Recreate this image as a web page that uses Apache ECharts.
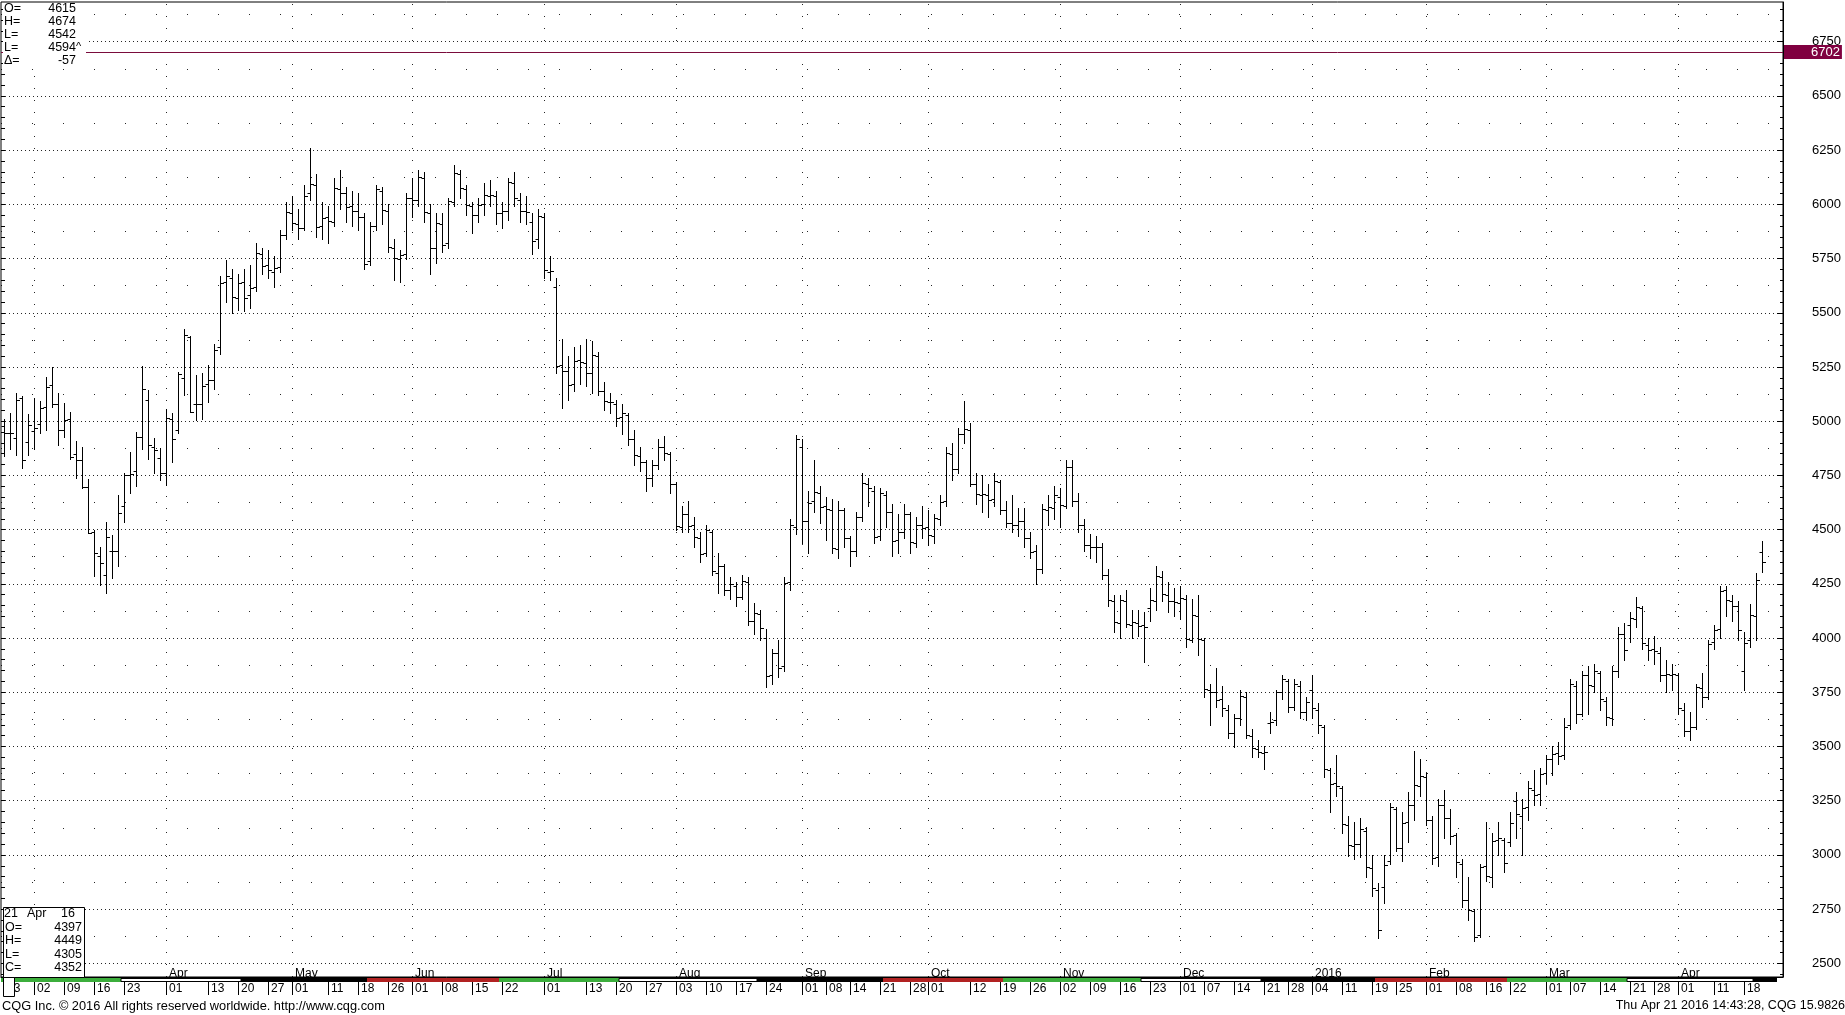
<!DOCTYPE html>
<html><head><meta charset="utf-8">
<script src="https://cdn.jsdelivr.net/npm/echarts@6/dist/echarts.min.js"></script>
<style>html,body{margin:0;padding:0;background:#fff;overflow:hidden}#c{width:1845px;height:1015px}</style>
</head><body><div id="c"></div>
<script>
// ---------- DATA ----------
const holidays = ['2015-04-03','2015-05-25','2015-07-03','2015-09-07','2015-11-26','2015-12-25','2016-01-01','2016-01-18','2016-02-15','2016-03-25'];
const firstDate = '2015-02-23';
const axisEndDate = '2016-04-26'; // three empty sessions after the last bar

const opens = [
 4980,4945,4921,5105,4905,
 4955,4987,5067,5167,5080,4961,5010,4850,4820,4698,4490,4380,4290,4400,4400,4610,4752,4770,4925,5100,4880,4830,
 4760,5010,4960,5198,5390,5080,5080,5170,5190,5340,5640,5660,5570,5640,5580,5620,5770,5720,5690,5710,5860,
 5960,5910,5890,6050,6090,5900,5940,5920,6070,6050,5990,5970,5940,5740,5900,6060,5970,5800,5750,5770,
 6030,6020,6120,5960,5800,5910,5820,6010,6140,6070,5990,5950,6000,6040,6040,5960,5970,6100,6020,5970,5920,5840,
 5940,5690,5620,5260,5230,5170,5280,5270,5220,5300,5140,5090,5080,5020,5030,4920,4840,4810,4740,4800,4880,4850,
 4710,4510,4570,4520,4460,4390,4490,4300,4330,4220,4240,4190,4260,4080,4110,4000,3830,3930,3870,4260,4510,
 4880,4540,4630,4670,4610,4590,4410,4590,4460,4400,4560,4710,4680,4470,4660,4580,4450,4490,4570,4440,4520,
 4510,4470,4550,4630,4850,4780,4940,4960,4710,4660,4660,4640,4720,4590,4530,4520,4540,4460,4400,4320,4590,4600,
 4650,4610,4790,4630,4520,4430,4420,4420,4290,4170,4070,4170,4060,4070,4060,4140,4170,4280,4200,4170,
 4160,4180,3990,4100,3990,3760,3750,3720,3670,3560,3630,3730,3550,3490,3470,3610,3620,3750,3800,3680,3780,3660,
 3760,3670,3590,3390,3330,3310,3140,3040,3050,3110,2940,2840,2850,2970,3210,3030,3150,3230,3320,
 3360,3160,2990,3230,3170,3090,2960,2790,2740,2630,2950,2900,3070,3070,3060,3250,3180,3220,3300,3280,
 3380,3440,3470,3460,3600,3780,3650,3830,3780,3840,3710,3630,3850,4020,4060,4090,4140,3970,3950,3930,3830,3830,
 3830,3670,3570,3590,3770,3730,3980,4040,4220,4170,4150,3850,3990,4100,4397
];
const highs = [
 5010,5036,5131,5118,5033,
 5105,5091,5205,5249,5128,5085,5044,4910,4880,4732,4498,4421,4537,4475,4658,4763,4859,4951,5254,5144,4921,4875,
 5055,5036,5226,5424,5395,5213,5220,5260,5355,5670,5742,5700,5680,5700,5720,5820,5800,5790,5760,5880,6010,
 6040,5980,6090,6258,6140,6010,5990,6120,6160,6080,6060,6050,5960,5920,6090,6080,6000,5840,5790,6050,
 6120,6160,6150,6000,5960,5960,6030,6180,6160,6090,6010,6030,6100,6110,6060,6010,6120,6150,6050,6040,5960,5980,
 5960,5760,5660,5380,5300,5340,5350,5380,5370,5320,5180,5130,5100,5080,5040,4960,4880,4820,4820,4920,4930,4860,
 4720,4610,4630,4560,4490,4520,4500,4390,4340,4280,4260,4290,4280,4160,4130,4040,3950,3990,4280,4550,4935,
 4920,4680,4820,4700,4650,4640,4630,4600,4470,4580,4760,4740,4700,4690,4680,4620,4570,4620,4580,4560,4610,
 4590,4570,4660,4880,4900,4970,5092,4990,4760,4750,4710,4760,4730,4630,4660,4600,4600,4490,4430,4620,4660,4700,
 4690,4820,4820,4670,4550,4480,4470,4440,4320,4200,4200,4220,4130,4130,4120,4230,4330,4310,4260,4230,
 4240,4200,4180,4200,4000,3790,3860,3780,3690,3650,3760,3750,3580,3530,3500,3660,3760,3830,3810,3810,3800,3730,
 3830,3700,3600,3400,3460,3320,3180,3150,3170,3130,3000,2870,3000,3240,3220,3200,3290,3480,3440,
 3380,3180,3260,3300,3210,3100,2980,2900,2750,2960,3150,3100,3150,3080,3200,3290,3260,3340,3390,3400,
 3460,3500,3520,3630,3810,3800,3850,3870,3880,3850,3730,3870,4050,4070,4120,4190,4150,4000,4010,3960,3900,3880,
 3840,3700,3660,3790,3840,3990,4060,4240,4240,4200,4170,4029,4157,4298,4449
];
const lows = [
 4840,4870,4844,4782,4844,
 4873,4947,4959,5064,4890,4928,4824,4737,4690,4483,4286,4245,4206,4275,4330,4537,4670,4701,4874,4824,4763,4729,
 4705,4813,4947,5121,5044,5005,5010,5090,5150,5310,5550,5500,5515,5510,5520,5600,5680,5660,5620,5690,5840,
 5880,5840,5880,6020,5850,5840,5820,5900,5980,5920,5900,5880,5700,5720,5880,5910,5780,5650,5640,5750,
 5940,5990,5920,5680,5730,5780,5800,5990,6030,5950,5870,5920,5950,5990,5910,5890,5930,5990,5920,5910,5770,5800,
 5660,5650,5220,5060,5100,5140,5170,5160,5130,5120,5050,5040,4980,4940,4890,4800,4770,4680,4700,4780,4820,4670,
 4500,4490,4490,4420,4350,4380,4290,4210,4200,4180,4150,4180,4060,4020,3990,3775,3790,3820,3850,4220,4480,
 4440,4390,4580,4530,4450,4390,4370,4420,4330,4380,4540,4610,4440,4450,4510,4380,4390,4460,4390,4420,4460,
 4430,4440,4520,4610,4730,4760,4900,4700,4620,4580,4560,4610,4570,4510,4490,4470,4420,4370,4250,4300,4520,4550,
 4510,4600,4610,4490,4400,4370,4350,4270,4150,4030,4000,4050,4000,4010,3890,4080,4130,4170,4120,4100,
 4090,3960,3980,3920,3730,3600,3680,3640,3540,3498,3600,3540,3450,3450,3398,3560,3600,3720,3660,3670,3630,3620,
 3630,3560,3360,3200,3270,3100,2993,2980,2990,2900,2810,2619,2780,2960,3020,2970,3060,3160,3270,
 3140,2960,2950,3080,3050,2900,2760,2700,2605,2620,2880,2850,3000,2920,3040,3080,3000,3160,3230,3230,
 3330,3370,3420,3440,3580,3610,3640,3650,3750,3670,3600,3600,3820,3900,3980,4050,3950,3900,3880,3800,3750,3760,
 3650,3550,3530,3580,3680,3720,3950,4000,4100,4080,3990,3760,3960,3991,4305
];
const closes = [
 4945,4944,5100,4821,4982,
 4970,5059,5159,5079,4961,5005,4833,4821,4698,4486,4394,4348,4467,4400,4575,4752,4755,4925,5147,4889,4868,4759,
 5013,4916,5219,5398,5042,5079,5164,5191,5329,5639,5671,5574,5638,5568,5616,5774,5715,5699,5706,5858,5963,
 5915,5893,6040,6093,5894,5939,5925,6075,6050,5988,5969,5943,5726,5898,6072,5972,5803,5751,5768,6030,
 6020,6126,5964,5800,5913,5814,6014,6143,6077,5996,5952,5997,6045,6045,5961,5968,6101,6027,5970,5963,5833,5947,
 5696,5693,5253,5233,5165,5278,5274,5220,5304,5141,5091,5089,5015,5036,4919,4845,4814,4739,4798,4879,4852,4712,
 4517,4574,4515,4466,4387,4496,4308,4330,4223,4250,4187,4262,4080,4114,4045,3824,3931,3860,4256,4522,4920,
 4541,4625,4675,4605,4594,4415,4592,4463,4400,4559,4715,4690,4468,4668,4583,4448,4491,4570,4443,4523,4509,
 4474,4554,4626,4853,4781,4943,4963,4710,4666,4664,4638,4726,4589,4529,4520,4538,4460,4398,4320,4594,4606,4659,
 4614,4790,4632,4520,4429,4421,4421,4293,4175,4074,4174,4067,4075,4054,4050,4175,4287,4204,4171,4165,
 4185,3994,4108,3997,3765,3751,3716,3676,3562,3631,3735,3552,3495,3473,3474,3614,3750,3810,3681,3787,3660,3704,
 3676,3597,3397,3327,3316,3141,3044,3048,3120,2942,2846,2655,2953,3219,3034,3145,3230,3322,3362,
 3162,2988,3228,3172,3089,2969,2794,2745,2621,2944,2904,3066,3077,2964,3148,3187,3215,3307,3278,3375,
 3440,3466,3457,3592,3790,3650,3829,3784,3850,3718,3634,3846,4020,3944,4091,4145,3979,3946,3939,3828,3832,3834,
 3679,3570,3589,3775,3726,3972,4036,4217,4176,4150,4036,3978,4106,4268,4352
];

const yLabels = [2500,2750,3000,3250,3500,3750,4000,4250,4500,4750,5000,5250,5500,5750,6000,6250,6500,6750];
const yMidLevels = [2625,2875,3125,3375,3625,3875,4125,4375,4625,4875,5125,5375,5625,5875,6125,6375,6625,6875];
const tickDates = ['2015-02-23','2015-03-02','2015-03-09','2015-03-16','2015-03-23','2015-04-01','2015-04-13','2015-04-20','2015-04-27',
 '2015-05-01','2015-05-11','2015-05-18','2015-05-26','2015-06-01','2015-06-08','2015-06-15','2015-06-22','2015-07-01','2015-07-13',
 '2015-07-20','2015-07-27','2015-08-03','2015-08-10','2015-08-17','2015-08-24','2015-09-01','2015-09-08','2015-09-14','2015-09-21',
 '2015-09-28','2015-10-01','2015-10-12','2015-10-19','2015-10-26','2015-11-02','2015-11-09','2015-11-16','2015-11-23','2015-12-01',
 '2015-12-07','2015-12-14','2015-12-21','2015-12-28','2016-01-04','2016-01-11','2016-01-19','2016-01-25','2016-02-01','2016-02-08',
 '2016-02-16','2016-02-22','2016-03-01','2016-03-07','2016-03-14','2016-03-21','2016-03-28','2016-04-01','2016-04-11','2016-04-18'];
const monthGridDates = ['2015-03-02','2015-04-01','2015-05-01','2015-06-01','2015-07-01','2015-08-03','2015-09-01','2015-10-01','2015-11-02','2015-12-01','2016-01-04','2016-02-01','2016-03-01','2016-04-01'];
const monthLabelDates = ['2015-04-01','2015-05-01','2015-06-01','2015-07-01','2015-08-03','2015-09-01','2015-10-01','2015-11-02','2015-12-01','2016-01-04','2016-02-01','2016-03-01','2016-04-01'];
const monthLabelTexts = ['Apr','May','Jun','Jul','Aug','Sep','Oct','Nov','Dec','2016','Feb','Mar','Apr'];
const bandStarts = ['2015-02-23','2015-03-23','2015-04-21','2015-05-20','2015-06-22','2015-07-21','2015-08-21','2015-09-22','2015-10-20','2015-11-20','2015-12-21','2016-01-20','2016-02-22','2016-03-21','2016-04-20'];
const bandColors = ['#3cae3c','#ffffff','#000000','#b22222','#3cae3c','#ffffff','#000000','#b22222','#3cae3c','#ffffff','#000000','#b22222','#3cae3c','#ffffff','#000000'];
const bandEndDate = '2016-04-26';
const markerHigh = 6702;
const lastInfo = {day:'21', month:'Apr', year:'16', O:4397, H:4449, L:4305, C:4352};
const topInfo = [['O=','4615',''],['H=','4674',''],['L=','4542',''],['L=','4594','^'],['\u0394=','-57','']];
const footerLeft = 'CQG Inc. \u00a9 2016 All rights reserved worldwide. http://www.cqg.com';
const footerRight = 'Thu Apr 21 2016 14:43:28, CQG 15.9826';

// ---------- CATEGORIES (trading sessions) ----------
const dates = [];
(function(){
  const hs = new Set(holidays);
  const p = s => { const a = s.split('-').map(Number); return Date.UTC(a[0], a[1]-1, a[2]); };
  for (let t = p(firstDate); t <= p(axisEndDate); t += 86400000) {
    const dt = new Date(t), dow = dt.getUTCDay();
    const iso = dt.toISOString().slice(0,10);
    if (dow === 0 || dow === 6 || hs.has(iso)) continue;
    dates.push(iso);
  }
})();
const idxOf = d => dates.indexOf(d);

const ohlcData = closes.map((c, i) => [i, opens[i], highs[i], lows[i], c]);
const bandData = bandStarts.map((d, i) => [idxOf(d), i + 1 < bandStarts.length ? idxOf(bandStarts[i+1]) : idxOf(bandEndDate), i]);

const tickSet = new Set(tickDates);
const monthMap = {}; monthLabelDates.forEach((d,i)=>monthMap[d]=monthLabelTexts[i]);

const minorTicks = []; for (let v = 2450; v <= 6900; v += 50) minorTicks.push(v);

const FONT = '"Liberation Sans", Arial, sans-serif';
const Y_MIN = 2437, Y_MAX = 6933;
const GRID = {left: 1, right: 62, top: 2, bottom: 38};

// ---------- CHART ----------
const chart = echarts.init(document.getElementById('c'), null, {renderer: 'canvas'});

function renderOHLC(params, api) {
  const i = api.value(0);
  const o = api.coord([i, api.value(1)]);
  const h = api.coord([i, api.value(2)]);
  const l = api.coord([i, api.value(3)]);
  const c = api.coord([i, api.value(4)]);
  const x = Math.round(h[0]) + 0.5;
  const st = {stroke: '#000', lineWidth: 1};
  const oy = Math.round(o[1]) + 0.5, cy = Math.round(c[1]) + 0.5;
  return {type: 'group', children: [
    {type: 'line', shape: {x1: x, y1: Math.round(h[1]), x2: x, y2: Math.round(l[1]) + 1}, style: st},
    {type: 'line', shape: {x1: x - 3, y1: oy, x2: x, y2: oy}, style: st},
    {type: 'line', shape: {x1: x, y1: cy, x2: x + 3.5, y2: cy}, style: st}
  ]};
}

function renderBand(params, api) {
  const s = api.coord([api.value(0), 0]);
  const e = api.coord([api.value(1), 0]);
  const w = api.size([1, 0])[0];
  const top = api.coord([api.value(0), 1])[1];
  const color = bandColors[api.value(2)];
  const x1 = s[0] - w / 2, x2 = e[0] - w / 2;
  const isWhite = color === '#ffffff';
  return {type: 'rect', shape: {x: x1, y: top + (isWhite ? 0.5 : 0), width: x2 - x1, height: s[1] - top - (isWhite ? 1 : 0)},
    style: {fill: color, stroke: isWhite ? '#000' : null, lineWidth: isWhite ? 1 : 0}};
}

const labelBox = (bg) => ({show: true, position: 'end', distance: 1, color: '#fff', fontFamily: FONT, fontSize: 13,
  backgroundColor: bg, padding: [1, 2, 0, 27], lineHeight: 13});

const option = {
  animation: false,
  backgroundColor: '#fff',
  grid: [
    Object.assign({show: true, borderColor: '#000', borderWidth: 1, backgroundColor: 'transparent'}, GRID),
    {left: GRID.left, right: GRID.right, top: 978, height: 4, show: false},
    Object.assign({show: false}, GRID)
  ],
  xAxis: [
    {type: 'category', gridIndex: 0, data: dates, boundaryGap: true,
     axisLine: {show: true, lineStyle: {color: '#000', width: 1}},
     axisTick: {show: true, alignWithLabel: true, length: 18, interval: (i, v) => tickSet.has(v), lineStyle: {color: '#000'}},
     axisLabel: {show: true, interval: (i, v) => tickSet.has(v), formatter: v => v.slice(8, 10), align: 'left',
       padding: [0, 0, 0, 3], margin: 6, color: '#000', fontFamily: FONT, fontSize: 12},
     splitLine: {show: false}},
    {type: 'category', gridIndex: 1, data: dates, boundaryGap: true, show: false},
    {type: 'category', gridIndex: 2, data: dates, boundaryGap: true, position: 'bottom',
     axisLine: {show: false}, axisTick: {show: false}, splitLine: {show: false},
     axisLabel: {show: true, inside: true, interval: (i, v) => monthMap[v] !== undefined, formatter: v => monthMap[v] || '',
       align: 'left', padding: [0, 0, 0, 3], margin: -3, color: '#000', fontFamily: FONT, fontSize: 12}}
  ],
  yAxis: [
    {type: 'value', gridIndex: 0, position: 'right', min: Y_MIN, max: Y_MAX, scale: true,
     axisLine: {show: true, lineStyle: {color: '#000'}},
     axisTick: {show: true, inside: true, length: 3, customValues: minorTicks, lineStyle: {color: '#000'}},
     axisLabel: {show: true, customValues: yLabels, formatter: v => String(v), margin: 58, align: 'right', color: '#000', fontFamily: FONT, fontSize: 13},
     splitLine: {show: false}},
    {type: 'value', gridIndex: 0, position: 'left', min: Y_MIN, max: Y_MAX, scale: true,
     axisLine: {show: false},
     axisTick: {show: true, inside: true, length: 4, customValues: minorTicks, lineStyle: {color: '#000'}},
     axisLabel: {show: false}, splitLine: {show: false}},
    {type: 'value', gridIndex: 1, min: 0, max: 1, show: false},
    {type: 'value', gridIndex: 2, position: 'right', min: Y_MIN, max: Y_MAX, scale: true,
     axisLine: {show: false},
     axisTick: {show: true, inside: true, length: 6, customValues: yLabels, lineStyle: {color: '#000'}},
     axisLabel: {show: false}, splitLine: {show: false}}
  ],
  series: [
    {type: 'custom', name: 'grid', xAxisIndex: 0, yAxisIndex: 0, data: [], silent: true, z: 1,
     renderItem: () => null,
     markLine: {silent: true, symbol: ['none', 'none'], animation: false, label: {show: false}, z: 1,
       data: [
         ...yLabels.map(v => ({yAxis: v, lineStyle: {color: '#000', type: [1, 3], width: 1, opacity: 0.85}})),
         ...yMidLevels.map(v => ({yAxis: v, lineStyle: {color: '#000', type: [1, 30], width: 1, opacity: 0.85}})),
         ...monthGridDates.map(d => ({xAxis: d, lineStyle: {color: '#000', type: [1, 11], width: 1, opacity: 0.85}}))
       ]}},
    {type: 'custom', name: 'OHLC', xAxisIndex: 0, yAxisIndex: 0, data: ohlcData, renderItem: renderOHLC,
     encode: {x: 0, y: [1, 2, 3, 4]}, clip: true, z: 3, silent: true,
     markLine: {silent: true, symbol: ['none', 'none'], animation: false, z: 5,
       data: [
         {yAxis: markerHigh, lineStyle: {color: '#7a0c3c', type: 'solid', width: 1},
          label: Object.assign(labelBox('#800040'), {formatter: String(markerHigh)})},
         {yAxis: lastInfo.C, lineStyle: {opacity: 0, width: 0},
          label: Object.assign(labelBox('#000'), {formatter: String(lastInfo.C)})}
       ]}},
    {type: 'custom', name: 'band', xAxisIndex: 1, yAxisIndex: 2, data: bandData, renderItem: renderBand,
     encode: {x: [0, 1], y: 2}, clip: false, z: 10, silent: true}
  ],
  graphic: []
};
chart.setOption(option);

// ---------- TEXT OVERLAYS ----------
const F12 = '12.5px ' + FONT;
const g = [];
g.push({type: 'rect', z: 100, shape: {x: 3, y: 3, width: 83, height: 63}, style: {fill: '#fff'}});
topInfo.forEach((r, k) => {
  const y = 8.5 + k * 12.9;
  g.push({type: 'text', z: 101, x: 4, y: y, style: {text: r[0], fill: '#000', font: F12, verticalAlign: 'middle'}});
  g.push({type: 'text', z: 101, x: 76, y: y, style: {text: r[1], fill: '#000', font: F12, align: 'right', verticalAlign: 'middle'}});
  if (r[2]) g.push({type: 'text', z: 101, x: 76, y: y, style: {text: r[2], fill: '#000', font: '11px ' + FONT, align: 'left', verticalAlign: 'middle'}});
});
g.push({type: 'rect', z: 100, shape: {x: 3.5, y: 907.5, width: 81, height: 70}, style: {fill: '#fff', stroke: '#000', lineWidth: 1}});
g.push({type: 'text', z: 101, x: 4, y: 914, style: {text: lastInfo.day, fill: '#000', font: F12, verticalAlign: 'middle'}});
g.push({type: 'text', z: 101, x: 27, y: 914, style: {text: lastInfo.month, fill: '#000', font: F12, verticalAlign: 'middle'}});
g.push({type: 'text', z: 101, x: 75, y: 914, style: {text: lastInfo.year, fill: '#000', font: F12, align: 'right', verticalAlign: 'middle'}});
[['O=', lastInfo.O], ['H=', lastInfo.H], ['L=', lastInfo.L], ['C=', lastInfo.C]].forEach((r, k) => {
  const y = 927.5 + k * 13.4;
  g.push({type: 'text', z: 101, x: 5, y: y, style: {text: r[0], fill: '#000', font: F12, verticalAlign: 'middle'}});
  g.push({type: 'text', z: 101, x: 82, y: y, style: {text: String(r[1]), fill: '#000', font: F12, align: 'right', verticalAlign: 'middle'}});
});
g.push({type: 'rect', z: 100, shape: {x: 3.5, y: 977.5, width: 11, height: 19}, style: {fill: '#fff', stroke: '#000', lineWidth: 1}});
g.push({type: 'text', z: 101, x: 2, y: 1006, style: {text: footerLeft, fill: '#000', font: '12.8px ' + FONT, verticalAlign: 'middle'}});
g.push({type: 'text', z: 101, x: 1845, y: 1006, style: {text: footerRight, fill: '#000', font: '12.5px ' + FONT, align: 'right', verticalAlign: 'middle'}});
chart.setOption({graphic: g});
</script></body></html>
